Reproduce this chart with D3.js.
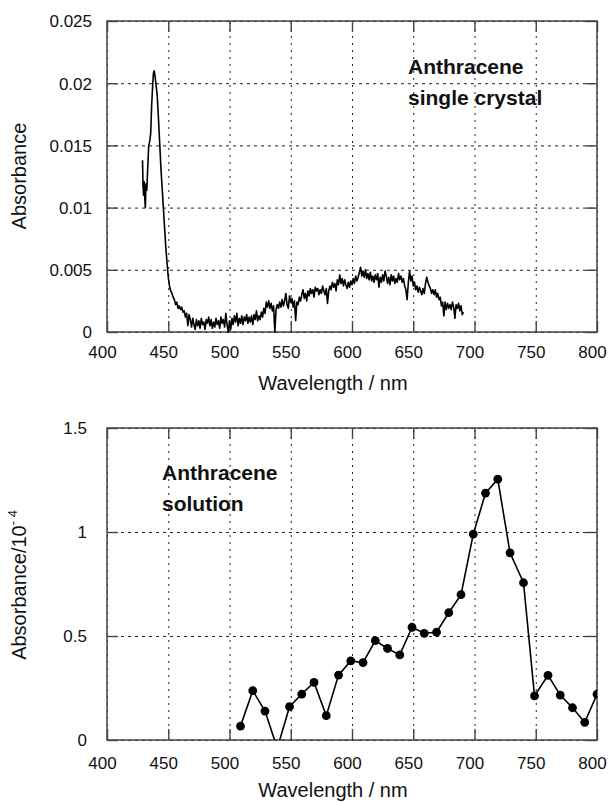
<!DOCTYPE html>
<html>
<head>
<meta charset="utf-8">
<script src="https://cdn.jsdelivr.net/npm/d3@7"></script>
<style>
body { margin: 0; background: #fff; }
svg { font-family: "Liberation Sans", Arial, sans-serif; }
.grid line { stroke: #222; stroke-width: 1; }
.grid path, .inner path, .labels path { display: none; }
.inner line { stroke: #444; stroke-width: 1.4; }
</style>
</head>
<body>
<svg width="609" height="803"></svg>
<script>
var xTicks = [400, 450, 500, 550, 600, 650, 700, 750, 800];
var crystalTicks = [0, 0.005, 0.01, 0.015, 0.02, 0.025];
var crystalTickLabels = ["0", "0.005", "0.01", "0.015", "0.02", "0.025"];
var solutionTicks = [0, 0.5, 1, 1.5];
var solutionTickLabels = ["0", "0.5", "1", "1.5"];

// single crystal absorbance, [wavelength nm, absorbance]
var crystalSpectrum = [
    [429, .0138], [429.4, .0117], [429.9, .0110], [430.3, .0121], [430.8, .0108], [431.3, .0100],
    [431.8, .0119], [432.5, .0114], [433.2, .0131], [434, .0149], [435, .0154], [435.7, .0160],
    [436.4, .0181], [437.2, .0197], [437.9, .0208], [438.6, .0210], [439.3, .0205], [440, .0199],
    [441, .0190], [442, .0172], [443, .0152], [444, .0132], [445, .0116], [446, .0100], [447, .0084],
    [448, .0068], [449, .0056], [450, .0044], [451, .0037], [452, .0033],
    [453, .0031], [454, .0028], [455, .0026], [456, .0022], [457, .0024], [458, .0019], [459, .0021],
    [460, .0018], [461, .0020], [462, .0016], [463, .0017], [464, .0012], [465, .0015], [466, .0005],
    [467, .0014], [468, .0010], [469, .0004], [470, .0011], [471, .0006], [472, .0002], [473, .0010],
    [474, .0005], [475, .0009], [476, .0003], [477, .0011], [478, .0006], [479, .0008], [480, .0002],
    [481, .0010], [482, .0007], [483, .0012], [484, .0005], [485, .0010], [486, .0003], [487, .0008],
    [488, .0004], [489, .0011], [490, .0006], [491, .0009], [492, .0003], [493, .0012], [494, .0007],
    [495, .0010], [496, .0004], [497, .0015], [498, .0006], [499, .0000], [500, .0009], [501, .0002],
    [502, .0011], [503, .0006], [504, .0013], [505, .0008], [506, .0015], [507, .0005], [508, .0011],
    [509, .0007], [510, .0013], [511, .0006], [512, .0012], [513, .0009], [514, .0014], [515, .0007],
    [516, .0012], [517, .0008], [518, .0013], [519, .0006], [520, .0014], [521, .0010], [522, .0017],
    [523, .0009], [524, .0013], [525, .0010], [526, .0016], [527, .0012], [528, .0019], [529, .0015],
    [530, .0024], [531, .0020], [532, .0025], [533, .0019], [534, .0023], [535, .0017], [536, .0021],
    [537, .0000], [538, .0018], [539, .0022], [540, .0019], [541, .0024], [542, .0020], [543, .0026],
    [544, .0021], [545, .0025], [546, .0031], [547, .0022], [548, .0019], [549, .0029], [550, .0024],
    [551, .0027], [552, .0020], [553, .0025], [554, .0009], [555, .0024], [556, .0022], [557, .0028],
    [558, .0025], [559, .0030], [560, .0034], [561, .0027], [562, .0031], [563, .0025], [564, .0033],
    [565, .0029], [566, .0035], [567, .0031], [568, .0034], [569, .0028], [570, .0036], [571, .0033],
    [572, .0035], [573, .0030], [574, .0034], [575, .0031], [576, .0037], [577, .0033], [578, .0030],
    [579, .0035], [580, .0023], [581, .0033], [582, .0037], [583, .0034], [584, .0040], [585, .0036],
    [586, .0039], [587, .0033], [588, .0042], [589, .0038], [590, .0046], [591, .0039], [592, .0043],
    [593, .0037], [594, .0042], [595, .0038], [596, .0035], [597, .0040], [598, .0036], [599, .0041],
    [600, .0038], [601, .0043], [602, .0039], [603, .0045], [604, .0041], [605, .0044], [606, .0048],
    [607, .0052], [608, .0045], [609, .0049], [610, .0044], [611, .0050], [612, .0043], [613, .0047],
    [614, .0042], [615, .0048], [616, .0041], [617, .0045], [618, .0040], [619, .0046], [620, .0042],
    [621, .0047], [622, .0036], [623, .0044], [624, .0040], [625, .0046], [626, .0041], [627, .0049],
    [628, .0045], [629, .0039], [630, .0044], [631, .0038], [632, .0046], [633, .0041], [634, .0045],
    [635, .0039], [636, .0043], [637, .0040], [638, .0047], [639, .0042], [640, .0045], [641, .0040],
    [642, .0043], [643, .0037], [644, .0034], [645, .0026], [646, .0040], [647, .0049], [648, .0041],
    [649, .0045], [650, .0037], [651, .0040], [652, .0034], [653, .0037], [654, .0032], [655, .0036],
    [656, .0033], [657, .0030], [658, .0035], [659, .0031], [660, .0039], [661, .0044], [662, .0040],
    [663, .0037], [664, .0035], [665, .0031], [666, .0034], [667, .0030], [668, .0034], [669, .0028],
    [670, .0031], [671, .0026], [672, .0028], [673, .0021], [674, .0024], [675, .0013], [676, .0024],
    [677, .0018], [678, .0023], [679, .0019], [680, .0022], [681, .0018], [682, .0024], [683, .0020],
    [684, .0011], [685, .0022], [686, .0019], [687, .0023], [688, .0017], [689, .0021], [690, .0014],
    [691, .0016]
];

// solution absorbance (units of 10^-4)
var solutionNm = [509, 519, 529, 539, 549, 559, 569, 579, 589, 599, 609, 619, 629, 639, 649,
    659, 669, 679, 689, 699, 709, 719, 729, 740, 749, 760, 770, 780, 790, 800];
var solutionAbs = [0.067, 0.237, 0.139, -0.04, 0.16, 0.221, 0.277, 0.117, 0.312, 0.38, 0.372, 0.478, 0.44, 0.409, 0.542,
    0.513, 0.518, 0.612, 0.699, 0.99, 1.187, 1.254, 0.90, 0.756, 0.212, 0.311, 0.216, 0.155, 0.085, 0.22];

var svg = d3.select("svg"),
    left = 107,
    right = 597;

function drawPanel(top, bottom, yMax, yTicks, yTickLabels, labelEnd, xLabelY, titleY, yTitleY) {
    var x = d3.scaleLinear().domain([400, 800]).range([left, right]);
    var y = d3.scaleLinear().domain([0, yMax]).range([bottom, top]);
    var w = right - left,
        h = bottom - top;
    var g = svg.append("g");

    // dotted grid
    g.append("g")
        .attr("class", "grid")
        .attr("transform", "translate(0," + bottom + ")")
        .call(d3.axisBottom(x).tickValues(xTicks).tickSize(-h).tickFormat(""))
        .selectAll("line").attr("stroke-dasharray", "2,5");
    g.append("g")
        .attr("class", "grid")
        .attr("transform", "translate(" + left + ",0)")
        .call(d3.axisLeft(y).tickValues(yTicks).tickSize(-w).tickFormat(""))
        .selectAll("line").attr("stroke-dasharray", "3,4");

    // short inward ticks on all four sides
    g.append("g").attr("class", "inner").attr("transform", "translate(0," + bottom + ")")
        .call(d3.axisBottom(x).tickValues(xTicks).tickSize(-11).tickFormat(""));
    g.append("g").attr("class", "inner").attr("transform", "translate(0," + top + ")")
        .call(d3.axisTop(x).tickValues(xTicks).tickSize(-11).tickFormat(""));
    g.append("g").attr("class", "inner").attr("transform", "translate(" + left + ",0)")
        .call(d3.axisLeft(y).tickValues(yTicks).tickSize(-11).tickFormat(""));
    g.append("g").attr("class", "inner").attr("transform", "translate(" + right + ",0)")
        .call(d3.axisRight(y).tickValues(yTicks).tickSize(-11).tickFormat(""));

    g.append("rect")
        .attr("x", left)
        .attr("y", top)
        .attr("width", w)
        .attr("height", h)
        .attr("fill", "none")
        .attr("stroke", "#444")
        .attr("stroke-width", 1.5);

    // tick labels
    var xl = g.append("g").attr("class", "labels")
        .attr("transform", "translate(0," + bottom + ")")
        .call(d3.axisBottom(x).tickValues(xTicks).tickSize(0));
    xl.selectAll("text")
        .attr("y", xLabelY)
        .attr("dy", 0)
        .attr("dx", -5)
        .attr("font-size", 17)
        .attr("font-family", null)
        .attr("fill", "#111");

    var yl = g.append("g").attr("class", "labels")
        .attr("transform", "translate(" + left + ",0)")
        .call(d3.axisLeft(y).tickValues(yTicks).tickSize(0).tickFormat(function (d, i) {
            return yTickLabels[i];
        }));
    yl.selectAll("text")
        .attr("x", labelEnd - left)
        .attr("dy", "0.35em")
        .attr("font-size", 17)
        .attr("font-family", null)
        .attr("fill", "#111");

    g.append("text")
        .attr("x", 333)
        .attr("y", titleY)
        .attr("text-anchor", "middle")
        .attr("font-size", 20)
        .attr("fill", "#111")
        .text("Wavelength / nm");

    return {x: x, y: y, g: g, yTitle: g.append("text")
        .attr("transform", "translate(26," + yTitleY + ") rotate(-90)")
        .attr("text-anchor", "middle")
        .attr("font-size", 20)
        .attr("fill", "#111")};
}

// top panel: single crystal
var p1 = drawPanel(21, 332, 0.025, crystalTicks, crystalTickLabels, 92, 26, 390, 176);
p1.yTitle.text("Absorbance");

p1.g.append("path")
    .datum(crystalSpectrum)
    .attr("fill", "none")
    .attr("stroke", "#000")
    .attr("stroke-width", 1.6)
    .attr("stroke-linejoin", "round")
    .attr("d", d3.line()
        .x(function (d) { return p1.x(d[0]); })
        .y(function (d) { return p1.y(d[1]); }));

var note1 = p1.g.append("text")
    .attr("font-size", 21)
    .attr("font-weight", "bold")
    .attr("fill", "#111");
note1.append("tspan").attr("x", 408).attr("y", 74).text("Anthracene");
note1.append("tspan").attr("x", 408).attr("y", 105).text("single crystal");

// bottom panel: solution
var p2 = drawPanel(428, 740, 1.5, solutionTicks, solutionTickLabels, 87, 29, 797, 585);
p2.yTitle.text("Absorbance/10");
p2.yTitle.append("tspan")
    .attr("font-size", 13)
    .attr("dy", -9)
    .text("- 4");

svg.append("clipPath")
    .attr("id", "clip2")
    .append("rect")
    .attr("x", left)
    .attr("y", 428)
    .attr("width", right - left)
    .attr("height", 740 - 428);

var solution = solutionNm.map(function (d, i) {
    return {nm: d, v: solutionAbs[i]};
});

var marks = p2.g.append("g").attr("clip-path", "url(#clip2)");
marks.append("path")
    .datum(solution)
    .attr("fill", "none")
    .attr("stroke", "#000")
    .attr("stroke-width", 1.6)
    .attr("d", d3.line()
        .x(function (d) { return p2.x(d.nm); })
        .y(function (d) { return p2.y(d.v); }));
marks.selectAll("circle")
    .data(solution)
    .enter().append("circle")
    .attr("cx", function (d) { return p2.x(d.nm); })
    .attr("cy", function (d) { return p2.y(d.v); })
    .attr("r", 4.4)
    .attr("fill", "#000");

var note2 = p2.g.append("text")
    .attr("font-size", 21)
    .attr("font-weight", "bold")
    .attr("fill", "#111");
note2.append("tspan").attr("x", 162).attr("y", 480).text("Anthracene");
note2.append("tspan").attr("x", 162).attr("y", 511).text("solution");
</script>
</body>
</html>
